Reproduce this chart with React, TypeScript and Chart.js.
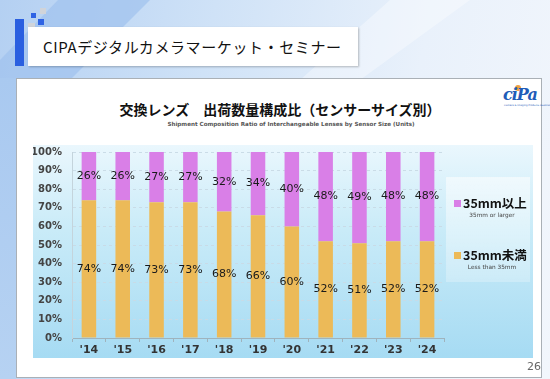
import React, { useEffect, useRef } from "react";
import { Chart, registerables } from "chart.js";

Chart.register(...registerables);

const categories = ["'14", "'15", "'16", "'17", "'18", "'19", "'20", "'21", "'22", "'23", "'24"];
const under35 = [74, 74, 73, 73, 68, 66, 60, 52, 51, 52, 52];
const over35 = [26, 26, 27, 27, 32, 34, 40, 48, 49, 48, 48];
const yTicks = [0, 10, 20, 30, 40, 50, 60, 70, 80, 90, 100];

const seriesNames = ["35mm未満", "35mm以上"];
const seriesSub = ["Less than 35mm", "35mm or larger"];
const colors = ["#ECBA58", "#D97FE7"];

const labelPlugin = {
  id: "barLabels",
  afterDatasetsDraw(chart: any) {
    const ctx = chart.ctx;
    ctx.save();
    ctx.font = "11px 'DejaVu Sans'";
    ctx.fillStyle = "#1a1a1a";
    ctx.textAlign = "center";
    ctx.textBaseline = "middle";
    chart.data.datasets.forEach((ds: any, di: number) => {
      const meta = chart.getDatasetMeta(di);
      meta.data.forEach((el: any, i: number) => {
        const y = (el.y + el.base) / 2;
        ctx.fillText(ds.data[i] + "%", el.x, y);
      });
    });
    ctx.restore();
  },
};

export default function App() {
  const ref = useRef<HTMLCanvasElement>(null);
  useEffect(() => {
    if (!ref.current) return;
    const chart = new Chart(ref.current, {
      type: "bar",
      data: {
        labels: categories,
        datasets: [
          { label: seriesNames[0], data: under35, backgroundColor: colors[0], barPercentage: 0.43, categoryPercentage: 1 },
          { label: seriesNames[1], data: over35, backgroundColor: colors[1], barPercentage: 0.43, categoryPercentage: 1 },
        ],
      },
      options: {
        responsive: false,
        animation: false,
        devicePixelRatio: 1,
        layout: { padding: { left: 33, right: 106, top: 152, bottom: 21 } },
        plugins: { legend: { display: false }, tooltip: { enabled: false }, title: { display: false } },
        scales: {
          x: {
            stacked: true,
            grid: { display: true, drawOnChartArea: false, tickLength: 4, color: "#9fb3bd", offset: true },
            border: { display: true, color: "#9fb3bd" },
            ticks: { color: "#333", font: { family: "DejaVu Sans", size: 11, weight: "bold" }, padding: 2 },
            afterFit: (s: any) => { s.height = 20; },
          },
          y: {
            stacked: true,
            min: 0,
            max: 100,
            afterBuildTicks: (s: any) => { s.ticks = yTicks.map((v) => ({ value: v })); },
            grid: { color: "rgba(200,218,230,0.95)", drawTicks: false, lineWidth: 1 },
            border: { display: true, color: "#c4d4dc", dash: [3, 3] },
            ticks: {
              color: "#444",
              font: { family: "DejaVu Sans", size: 10, weight: "bold" },
              padding: 10,
              callback: (v: any) => v + "%",
            },
            afterFit: (s: any) => { s.width = 39; },
          },
        },
      },
      plugins: [labelPlugin],
    });
    return () => chart.destroy();
  }, []);

  const jp = "'Noto Sans CJK JP', sans-serif";
  return (
    <div style={{ position: "fixed", left: 0, top: 0, width: 550, height: 379, overflow: "hidden", background: "linear-gradient(100deg, #b4d0f2 0%, #cfe2f7 35%, #e9f1fb 70%, #f2f6fc 100%)" }}>
      <div style={{ position: "absolute", left: 0, top: 0, width: 550, height: 379, background: "#9fc2ee", clipPath: "polygon(58px 0, 150px 0, 70px 80px, 0 80px, 0 60px)", opacity: 0.7 }} />
      <div style={{ position: "absolute", left: 0, top: 0, width: 550, height: 379, background: "#ffffff", clipPath: "polygon(390px 0, 470px 0, 360px 80px, 300px 80px)", opacity: 0.35 }} />
      <div style={{ position: "absolute", left: 0, top: 78, width: 16, height: 301, background: "linear-gradient(180deg, #a9c9f0, #b6d2f2)" }} />
      {/* deco squares */}
      <div style={{ position: "absolute", left: 15, top: 19, width: 9, height: 47, background: "#2a5fe0" }} />
      <div style={{ position: "absolute", left: 31, top: 13, width: 5, height: 5, background: "#2f63e4" }} />
      <div style={{ position: "absolute", left: 40, top: 8, width: 6, height: 6, background: "#d0d4da" }} />
      <div style={{ position: "absolute", left: 38, top: 19, width: 6, height: 6, background: "#2f63e4" }} />
      <div style={{ position: "absolute", left: 28, top: 23, width: 7, height: 7, background: "#d0d4da" }} />
      {/* header box */}
      <div style={{ position: "absolute", left: 28, top: 27, width: 330, height: 39, background: "#fff", boxShadow: "1px 1px 2px rgba(0,0,0,0.25)" }} />
      <div style={{ position: "absolute", left: 43, top: 36, fontFamily: jp, fontSize: 15, letterSpacing: 0.6, color: "#111", whiteSpace: "nowrap", lineHeight: "22px" }}>CIPAデジタルカメラマーケット・セミナー</div>
      {/* main panel */}
      <div style={{ position: "absolute", left: 16, top: 78, width: 524, height: 298, background: "#fff", border: "1px solid #aab0b6" }} />
      <div style={{ position: "absolute", left: 0, width: 550, top: 98, textAlign: "center", fontFamily: jp, fontWeight: "bold", fontSize: 14, color: "#111", lineHeight: "22px", paddingLeft: 10, boxSizing: "border-box", whiteSpace: "nowrap" }}>交換レンズ　出荷数量構成比（センサーサイズ別）</div>
      <div style={{ position: "absolute", left: 0, width: 550, top: 120, textAlign: "center", fontFamily: "'DejaVu Sans', sans-serif", fontWeight: "bold", fontSize: 5.6, color: "#555", lineHeight: "8px", paddingLeft: 32, boxSizing: "border-box", whiteSpace: "nowrap" }}>Shipment Composition Ratio of Interchangeable Lenses by Sensor Size (Units)</div>
      {/* logo */}
      <div style={{ position: "absolute", left: 515, top: 85, width: 6, height: 6, borderRadius: 3, background: "#f0a040" }} />
      <div style={{ position: "absolute", left: 503, top: 86, fontFamily: "'DejaVu Serif', serif", fontStyle: "italic", fontWeight: "bold", fontSize: 16, color: "#1f5cb8", lineHeight: "18px", letterSpacing: -1 }}>ciPa</div>
      <div style={{ position: "absolute", left: 504, top: 104, fontFamily: "'DejaVu Sans', sans-serif", fontSize: 2.5, color: "#1f5cb8", whiteSpace: "nowrap" }}>Camera &amp; Imaging Products Association</div>
      {/* plot background */}
      <div style={{ position: "absolute", left: 33, top: 145, width: 500, height: 213, background: "linear-gradient(180deg, #eaf7fd 0%, #c9ebf8 40%, #a6dbf3 100%)" }} />
      <canvas ref={ref} width={550} height={379} style={{ position: "absolute", left: 0, top: 0, width: 550, height: 379 }} />
      {/* legend */}
      <div style={{ position: "absolute", left: 446, top: 177, width: 84, height: 105, background: "linear-gradient(180deg, rgba(255,255,255,0.55), rgba(255,255,255,0.25))" }} />
      {[1, 0].map((k, idx) => (
        <div key={k} style={{ position: "absolute", left: 454, top: idx === 0 ? 195 : 247, width: 76 }}>
          <div style={{ display: "flex", alignItems: "center", fontFamily: jp, fontWeight: "bold", fontSize: 12.5, color: "#111", lineHeight: "16px", whiteSpace: "nowrap" }}>
            <span style={{ display: "inline-block", width: 7, height: 7, background: colors[k], marginRight: 2 }} />
            {seriesNames[k]}
          </div>
          <div style={{ fontFamily: "'DejaVu Sans', sans-serif", fontSize: 5.8, color: "#444", textAlign: "center", marginTop: 1, whiteSpace: "nowrap" }}>{seriesSub[k]}</div>
        </div>
      ))}
      <div style={{ position: "absolute", left: 527, top: 360, fontFamily: "'DejaVu Sans', sans-serif", fontSize: 11, color: "#666" }}>26</div>
    </div>
  );
}
